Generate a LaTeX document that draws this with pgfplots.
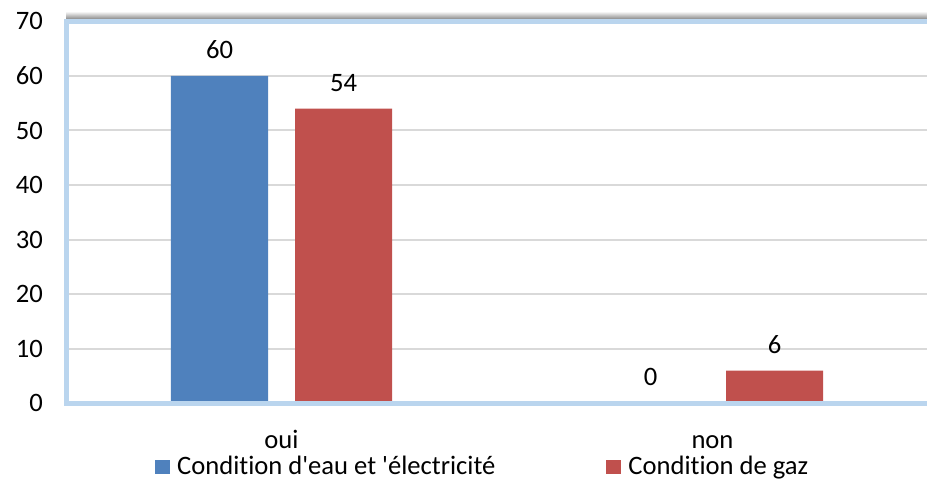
\documentclass[border=0pt]{standalone}
\usepackage{pgfplots}
\pgfplotsset{compat=1.18}
\usepackage{fontspec}
\setmainfont{Carlito}[Ligatures={NoCommon}]
\newfontfamily\carl{Carlito}[Ligatures={NoCommon}]
\definecolor{cblue}{HTML}{4F81BD}
\definecolor{cred}{HTML}{C0504D}
\definecolor{axblue}{HTML}{BAD5EE}
\definecolor{gridgray}{HTML}{D9D9D9}
\newcommand{\fs}{\carl\fontsize{13.3}{15}\selectfont}
\begin{document}
\fs
\begin{tikzpicture}
\begin{axis}[
  at={(0,0)}, anchor=south west,
  scale only axis,
  width=431pt, height=191pt,
  xmin=-0.5, xmax=1.5, ymin=0, ymax=70,
  ytick={0,10,...,70},
  xtick=data, xticklabels={oui,non},
  major tick length=0pt,
  axis line style={draw=none},
  ymajorgrids, grid style={gridgray, line width=1pt},
  ybar=13.5pt, bar width=48.5pt,
  /pgf/number format/assume math mode=true,
  tick label style={font=\fs},
  yticklabel style={xshift=-7pt},
  xticklabel style={yshift=-8pt, text height=1.6ex, text depth=0.3ex},
  nodes near coords,
  nodes near coords style={font=\fs, yshift=4pt, black},
  legend style={at={(0.103,-0.168)}, anchor=west, draw=none, fill=none,
    legend columns=2, inner sep=0pt, font=\fs,
    nodes={inner sep=3.5pt},
    /tikz/every even column/.append style={column sep=52pt}},
  legend cell align=left,
  legend image code/.code={\fill[#1] (0pt,-3.5pt) rectangle (7.5pt,3.5pt);},
]
\addplot[fill=cblue, draw=none] coordinates {(0,60) (1,0)};
\addplot[fill=cred, draw=none] coordinates {(0,54) (1,6)};
\legend{Condition d'eau et 'électricité, Condition de gaz}
\end{axis}
\shade[top color=white, bottom color=black!45] (0,192.25pt) rectangle (431pt,196pt);
\draw[axblue, line width=2.5pt] (431pt,191pt) -- (0pt,191pt) -- (0pt,0pt) -- (431pt,0pt);
\pgfresetboundingbox
\path[use as bounding box] (-33pt,-40pt) rectangle (430.5pt,201.65pt);
\end{tikzpicture}
\end{document}
